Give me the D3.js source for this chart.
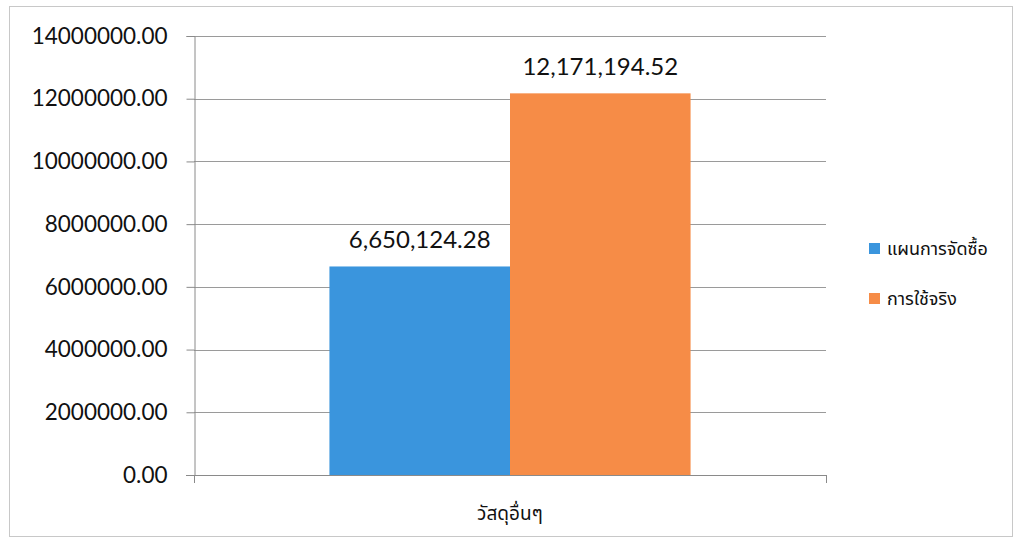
<!DOCTYPE html>
<html><head><meta charset="utf-8">
<script src="https://cdn.jsdelivr.net/npm/d3@7"></script>
<style>body{margin:0;background:#fff}svg{display:block}</style>
</head><body>
<svg id="c" width="1014" height="542"></svg>
<script>
const categories = ["วัสดุอื่นๆ"];
const seriesNames = ["แผนการจัดซื้อ", "การใช้จริง"];
const planValues = [6650124.28];
const actualValues = [12171194.52];
const valueLabels = [["6,650,124.28"], ["12,171,194.52"]];
const yTicks = [0, 2000000, 4000000, 6000000, 8000000, 10000000, 12000000, 14000000];
const colors = ["#3a95dd", "#f68c47"];

(function () {
const svg = d3.select("#c");
const font = "Lato, 'Open Sans', sans-serif";
const thaiFont = "'Noto Sans Thai', 'Noto Sans', 'DejaVu Sans', sans-serif";

svg.append("rect").attr("x", 9.5).attr("y", 6.5).attr("width", 1003).attr("height", 530)
  .attr("fill", "#fff").attr("stroke", "#c8c8c8");

const pLeft = 194, pRight = 826, pTop = 36, pBottom = 475;
const y = d3.scaleLinear().domain([0, 14000000]).range([pBottom, pTop]);
const x0 = d3.scaleBand().domain(categories).range([pLeft, pRight]).paddingInner(0).paddingOuter(0.375);
const x1 = d3.scaleBand().domain(seriesNames).range([0, x0.bandwidth()]);

svg.append("g").selectAll("line").data(yTicks.filter(d => d > 0)).join("line")
  .attr("x1", pLeft).attr("x2", pRight).attr("y1", d => Math.round(y(d)) + 0.5).attr("y2", d => Math.round(y(d)) + 0.5)
  .attr("stroke", "#9a9a9a").attr("stroke-width", 1);

const yAxis = d3.axisLeft(y).tickValues(yTicks).tickSize(8).tickPadding(19).tickFormat(d => d3.format(".2f")(d));
const gy = svg.append("g").attr("transform", `translate(${pLeft + 0.5},0)`).call(yAxis);
gy.select(".domain").attr("stroke", "#8a8a8a");
gy.selectAll(".tick line").attr("stroke", "#8a8a8a");
gy.selectAll("text").attr("font-family", font).attr("font-size", 22.5).attr("fill", "#111");

const series = [planValues, actualValues];
const g = svg.append("g");
series.forEach((vals, si) => {
  g.selectAll(null).data(categories).join("rect")
    .attr("x", c => x0(c) + x1(seriesNames[si]))
    .attr("y", (c, i) => y(vals[i]))
    .attr("width", x1.bandwidth())
    .attr("height", (c, i) => pBottom - y(vals[i]))
    .attr("fill", colors[si]);
  g.selectAll(null).data(categories).join("text")
    .attr("x", c => x0(c) + x1(seriesNames[si]) + x1.bandwidth() / 2)
    .attr("y", (c, i) => y(vals[i]) - 18)
    .attr("text-anchor", "middle")
    .attr("font-family", font).attr("font-size", 24).attr("fill", "#111")
    .text((c, i) => valueLabels[si][i]);
});

const xa = svg.append("g");
xa.append("line").attr("x1", pLeft - 8).attr("x2", pRight).attr("y1", pBottom + 0.5).attr("y2", pBottom + 0.5).attr("stroke", "#8a8a8a");
xa.selectAll("line.tk").data([pLeft, pRight]).join("line").attr("class", "tk")
  .attr("x1", d => d + 0.5).attr("x2", d => d + 0.5).attr("y1", pBottom).attr("y2", pBottom + 8).attr("stroke", "#8a8a8a");
svg.append("g").selectAll("text").data(categories).join("text")
  .attr("x", c => x0(c) + x0.bandwidth() / 2)
  .attr("y", 520)
  .attr("text-anchor", "middle")
  .attr("font-family", thaiFont).attr("font-size", 19).attr("fill", "#111")
  .text(c => c);

const lg = svg.append("g").attr("transform", "translate(869,243)");
seriesNames.forEach((n, i) => {
  const r = lg.append("g").attr("transform", `translate(0,${i * 50})`);
  r.append("rect").attr("width", 11).attr("height", 11).attr("fill", colors[i]);
  r.append("text").attr("x", 18).attr("y", 12).attr("font-family", thaiFont).attr("font-size", 18).attr("fill", "#111").text(n);
});
})();
</script>
</body></html>
